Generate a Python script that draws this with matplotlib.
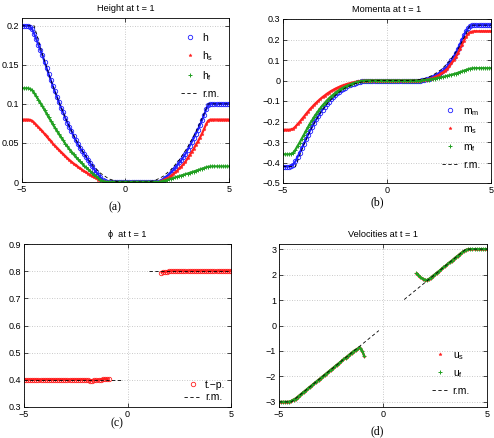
import numpy as np
import matplotlib
matplotlib.use("Agg")
import matplotlib.pyplot as plt
from matplotlib.ticker import FuncFormatter

plt.rcParams["font.family"] = ["Liberation Sans", "DejaVu Sans"]
plt.rcParams["mathtext.default"] = "regular"

# numerical grid, dx = 0.1 on [-5, 5]
x = np.round(np.arange(-5.0, 5.05, 0.1), 1)
x_left = x[:42]      # -5.0 .. -0.9 (wet, left)
x_right = x[66:]     # 1.6 .. 5.0 (wet, right)

dry = [0.0, 0.0, 0.0, 0.0, 0.0, 0.0, 0.0, 0.0, 0.0, 0.0, 0.0, 0.0,
       0.0, 0.0, 0.0, 0.0, 0.0, 0.0, 0.0, 0.0, 0.0, 0.0, 0.0, 0.0]

# ---- heights ----
h_left = [0.2, 0.2, 0.2, 0.2, 0.199, 0.196, 0.190, 0.183, 0.176, 0.169, 0.162, 0.154,
          0.146, 0.138, 0.131, 0.123, 0.116, 0.109, 0.102, 0.095, 0.089, 0.082, 0.076,
          0.070, 0.065, 0.059, 0.054, 0.049, 0.044, 0.040, 0.036, 0.032, 0.028, 0.024,
          0.020, 0.016, 0.0125, 0.009, 0.006, 0.003, 0.0008, 0.0]
h_right = [0.0, 0.001, 0.003, 0.005, 0.007, 0.009, 0.012, 0.015, 0.018, 0.021, 0.025,
           0.028, 0.032, 0.036, 0.041, 0.046, 0.051, 0.056, 0.062, 0.067, 0.073, 0.079,
           0.086, 0.093, 0.098, 0.1, 0.1, 0.1, 0.1, 0.1, 0.1, 0.1, 0.1, 0.1, 0.1]
hs_left = [0.08, 0.08, 0.08, 0.08, 0.0796, 0.0784, 0.076, 0.0732, 0.0704, 0.0676, 0.0648,
           0.0616, 0.0584, 0.0552, 0.0524, 0.0492, 0.0464, 0.0436, 0.0408, 0.038, 0.0356,
           0.0328, 0.0304, 0.028, 0.026, 0.0236, 0.0216, 0.0196, 0.0176, 0.016, 0.014,
           0.0124, 0.0108, 0.0092, 0.0076, 0.006, 0.0048, 0.0032, 0.002, 0.0008, 0.0002, 0.0]
hs_right = [0.0, 0.0006, 0.002, 0.0033, 0.0045, 0.0057, 0.0079, 0.01, 0.0122, 0.0143,
            0.0175, 0.0197, 0.0229, 0.026, 0.0302, 0.0343, 0.0385, 0.0426, 0.0477, 0.0518,
            0.0569, 0.062, 0.0681, 0.0742, 0.0785, 0.08, 0.08, 0.08, 0.08, 0.08, 0.08,
            0.08, 0.08, 0.08, 0.08]
hf_left = [0.12, 0.12, 0.12, 0.12, 0.1194, 0.1176, 0.114, 0.1098, 0.1056, 0.1014, 0.0972,
           0.0924, 0.0876, 0.0828, 0.0786, 0.0738, 0.0696, 0.0654, 0.0612, 0.057, 0.0534,
           0.0492, 0.0456, 0.042, 0.039, 0.0354, 0.0324, 0.0294, 0.0264, 0.024, 0.021,
           0.0186, 0.0162, 0.0138, 0.0114, 0.009, 0.0072, 0.0048, 0.003, 0.0012, 0.0003, 0.0]
hf_right = [0.0, 0.0003, 0.001, 0.0017, 0.0025, 0.0033, 0.0041, 0.005, 0.0058, 0.0067,
            0.0075, 0.0083, 0.0091, 0.01, 0.0108, 0.0117, 0.0125, 0.0134, 0.0143, 0.0152,
            0.0161, 0.017, 0.0179, 0.0188, 0.0195, 0.0199, 0.02, 0.02, 0.02, 0.02, 0.02,
            0.02, 0.02, 0.02, 0.02]

# ---- momenta ----
mm_left = [-0.42, -0.42, -0.42, -0.42, -0.4179, -0.4102, -0.3937, -0.3728, -0.3532, -0.3312,
           -0.3099, -0.2875, -0.2657, -0.2447, -0.2262, -0.2066, -0.1894, -0.173, -0.1571,
           -0.1418, -0.1288, -0.1148, -0.1028, -0.0915, -0.0819, -0.0715, -0.063, -0.0549,
           -0.0473, -0.0411, -0.0343, -0.0289, -0.0239, -0.0193, -0.0151, -0.0112, -0.0084,
           -0.0053, -0.0032, -0.0012, -0.0004, 0.0]
mm_right = [0.0, 0.0007, 0.0029, 0.0058, 0.0086, 0.0131, 0.0164, 0.0216, 0.0275, 0.0335,
            0.0421, 0.0489, 0.0585, 0.0684, 0.085, 0.099, 0.115, 0.133, 0.153, 0.175, 0.198,
            0.22, 0.24, 0.256, 0.265, 0.269, 0.27, 0.27, 0.27, 0.27, 0.27, 0.27, 0.27, 0.27, 0.27]
ms_left = [-0.24, -0.24, -0.24, -0.24, -0.2388, -0.2344, -0.225, -0.213, -0.2018, -0.1893,
           -0.1771, -0.1643, -0.1518, -0.1398, -0.1293, -0.1181, -0.1082, -0.0988, -0.0898,
           -0.081, -0.0736, -0.0656, -0.0588, -0.0523, -0.0468, -0.0409, -0.036, -0.0314,
           -0.027, -0.0235, -0.0196, -0.0165, -0.0137, -0.011, -0.0086, -0.0064, -0.0048,
           -0.003, -0.0018, -0.0007, -0.0002, 0.0]
ms_right = [0.0, 0.0004, 0.0019, 0.0042, 0.0063, 0.0095, 0.0126, 0.0169, 0.0218, 0.0267,
            0.0343, 0.04, 0.0484, 0.057, 0.071, 0.084, 0.098, 0.114, 0.132, 0.153, 0.174,
            0.195, 0.213, 0.227, 0.235, 0.239, 0.24, 0.24, 0.24, 0.24, 0.24, 0.24, 0.24,
            0.24, 0.24]
mf_left = [-0.36, -0.36, -0.36, -0.36, -0.3582, -0.3516, -0.3374, -0.3195, -0.3028, -0.2839,
           -0.2656, -0.2464, -0.2278, -0.2098, -0.1939, -0.1771, -0.1624, -0.1483, -0.1346,
           -0.1216, -0.1104, -0.0984, -0.0881, -0.0784, -0.0702, -0.0613, -0.054, -0.047,
           -0.0405, -0.0352, -0.0294, -0.0248, -0.0205, -0.0166, -0.0129, -0.0096, -0.0072,
           -0.0046, -0.0027, -0.001, -0.0003, 0.0]
mf_right = [0.0, 0.0006, 0.0019, 0.0031, 0.0045, 0.0059, 0.0075, 0.0094, 0.0113, 0.0135,
            0.0156, 0.0178, 0.0201, 0.0228, 0.0253, 0.0282, 0.031, 0.034, 0.0373, 0.0407,
            0.0441, 0.0478, 0.0514, 0.0551, 0.0579, 0.0595, 0.06, 0.06, 0.06, 0.06, 0.06,
            0.06, 0.06, 0.06, 0.06]

# ---- volume fraction (wet cells only) ----
phi_left = [0.4, 0.4, 0.4, 0.4, 0.4, 0.4, 0.4, 0.4, 0.4, 0.4, 0.4, 0.4, 0.4, 0.4, 0.4,
            0.4, 0.4, 0.4, 0.4, 0.4, 0.4, 0.4, 0.4, 0.4, 0.4, 0.4, 0.4, 0.4, 0.4, 0.4,
            0.399, 0.398, 0.397, 0.397, 0.398, 0.399, 0.4, 0.401, 0.402, 0.403, 0.403, 0.402]
phi_right = [0.795, 0.796, 0.797, 0.798, 0.799, 0.8, 0.8, 0.8, 0.8, 0.8, 0.8, 0.8, 0.8,
             0.8, 0.8, 0.8, 0.8, 0.8, 0.8, 0.8, 0.8, 0.8, 0.8, 0.8, 0.8, 0.8, 0.8, 0.8,
             0.8, 0.8, 0.8, 0.8, 0.8, 0.8, 0.8]

# ---- velocities (both phases coincide) ----
u_left = [-3.0, -3.0, -3.0, -3.0, -3.0, -2.99, -2.96, -2.91, -2.867, -2.8, -2.733, -2.667,
          -2.6, -2.533, -2.467, -2.4, -2.333, -2.267, -2.2, -2.133, -2.067, -2.0, -1.933,
          -1.867, -1.8, -1.733, -1.667, -1.6, -1.533, -1.467, -1.4, -1.333, -1.267, -1.2,
          -1.133, -1.067, -1.0, -0.95, -0.9, -0.87, -1.0, -1.2]
u_right = [2.07, 1.98, 1.9, 1.84, 1.8, 1.78, 1.82, 1.88, 1.95, 2.01, 2.08, 2.14, 2.21, 2.28,
           2.34, 2.41, 2.48, 2.54, 2.61, 2.68, 2.74, 2.81, 2.87, 2.93, 2.97, 2.99, 3.0, 3.0,
           3.0, 3.0, 3.0, 3.0, 3.0, 3.0, 3.0]

# ---- reference (r.m.) solution ----
x_rm = [-5.0, -4.4, -4.0, -3.6, -3.2, -2.8, -2.4, -2.0, -1.6, -1.2, -0.8, -0.4, -0.2,
        1.02, 1.4, 1.8, 2.2, 2.6, 3.0, 3.4, 3.8, 3.99, 5.0]
h_rm = [0.2, 0.2, 0.1637, 0.1311, 0.102, 0.0766, 0.0549, 0.0367, 0.0222, 0.0113, 0.0041,
        0.0005, 0.0, 0.0, 0.0016, 0.0069, 0.0158, 0.0283, 0.0444, 0.0642, 0.0876, 0.1, 0.1]
mm_rm = [-0.42, -0.42, -0.3132, -0.2264, -0.1571, -0.1037, -0.0641, -0.036, -0.0176,
         -0.0069, -0.0017, -0.0001, 0.0, 0.0, 0.0018, 0.0096, 0.0257, 0.0528, 0.0935,
         0.1506, 0.2265, 0.27, 0.27]
x_phi_rm = [-5.0, -0.2, np.nan, 1.02, 5.0]
phi_rm = [0.4, 0.4, np.nan, 0.8, 0.8]
x_u_rm = [-5.0, -4.4, -0.2, np.nan, 1.02, 3.99, 5.0]
u_rm = [-3.0, -3.0, -0.2, np.nan, 1.02, 3.0, 3.0]

h = np.concatenate([h_left, dry, h_right])
hs = np.concatenate([hs_left, dry, hs_right])
hf = np.concatenate([hf_left, dry, hf_right])
mm = np.concatenate([mm_left, dry, mm_right])
ms = np.concatenate([ms_left, dry, ms_right])
mf = np.concatenate([mf_left, dry, mf_right])

BLUE = "#2020ff"
RED = "#ff2020"
GREEN = "#22a022"

W, H = 494, 438
fig = plt.figure(figsize=(W / 100, H / 100), dpi=100)


def add_axes(l, t, r, b):
    return fig.add_axes([l / W, 1 - b / H, (r - l) / W, (b - t) / H])


def fmt(v, pos):
    v = round(v, 6)
    if v == 0:
        return "0"
    return ("%g" % v).replace("-", "\u2212")


def style(ax, yticks, ylim, title):
    ax.set_xlim(-5, 5)
    ax.set_xticks([-5, 0, 5])
    ax.set_yticks(yticks)
    ax.set_ylim(ylim)
    ax.xaxis.set_major_formatter(FuncFormatter(fmt))
    ax.yaxis.set_major_formatter(FuncFormatter(fmt))
    ax.set_axisbelow(True)
    ax.grid(True, linestyle=(0, (1, 2)), color="#b8b8b8", lw=0.6)
    ax.tick_params(direction="in", length=3, width=0.5, top=True, right=True,
                   labelsize=6.5, pad=2)
    for s in ax.spines.values():
        s.set_linewidth(0.6)
    ax.set_title(title, fontsize=6.6, pad=5)


def series(ax, xx, yy, color, marker, label, lw=1.6):
    # dense numerical solution: thick band with small markers on it
    ax.plot(xx, yy, color=color, lw=lw, solid_capstyle="butt", label="_nolegend_")
    if marker == "o":
        ax.plot(xx, yy, ls="none", marker="o", mfc="none", mec=color, ms=3.2,
                mew=0.6, label=label)
    elif marker == "*":
        ax.plot(xx, yy, ls="none", marker="*", color=color, ms=2.4, mew=0.3,
                label=label)
    else:
        ax.plot(xx, yy, ls="none", marker="+", color=color, ms=2.8, mew=0.7,
                label=label)


def rm(ax, xx, yy):
    ax.plot(xx, yy, color="k", lw=0.6, dashes=(4, 3), zorder=4, label="r.m.")


leg = dict(frameon=False, fontsize=7.5, numpoints=1, handlelength=1.6,
           handletextpad=0.4, labelspacing=0.6, borderpad=0, borderaxespad=0,
           markerscale=1.0)

# (a) heights
axa = add_axes(21.7, 18, 229, 182)
series(axa, x, h, BLUE, "o", "h", lw=1.5)
series(axa, x, hs, RED, "*", "h$_s$")
series(axa, x, hf, GREEN, "+", "h$_f$")
rm(axa, x_rm, h_rm)
style(axa, [0, 0.05, 0.1, 0.15, 0.2], (0, 0.21), "Height at t = 1")
axa.legend(loc="upper left", bbox_to_anchor=(0.77, 0.91), **leg)

# (b) momenta
axb = add_axes(283, 19, 491, 183)
series(axb, x, mm, BLUE, "o", "m$_m$", lw=1.5)
series(axb, x, ms, RED, "*", "m$_s$")
series(axb, x, mf, GREEN, "+", "m$_f$")
rm(axb, x_rm, mm_rm)
style(axb, np.round(np.arange(-0.5, 0.31, 0.1), 1), (-0.5, 0.3), "Momenta at t = 1")
axb.legend(loc="upper left", bbox_to_anchor=(0.765, 0.47), **leg)

# (c) volume fraction
axc = add_axes(24, 244, 231, 407)
series(axc, x_left, phi_left, RED, "o", "t.\u2212p.", lw=1.6)
series(axc, x_right, phi_right, RED, "o", "_nolegend_", lw=1.6)
rm(axc, x_phi_rm, phi_rm)
style(axc, np.round(np.arange(0.3, 0.91, 0.1), 1), (0.3, 0.9), "\u03d5  at t = 1")
axc.legend(loc="upper left", bbox_to_anchor=(0.775, 0.165),
           **dict(leg, labelspacing=0.2))

# (d) velocities
axd = add_axes(279, 244, 487, 407)
series(axd, x_left, u_left, RED, "*", "u$_s$")
series(axd, x_right, u_right, RED, "*", "_nolegend_")
series(axd, x_left, u_left, GREEN, "+", "u$_f$")
series(axd, x_right, u_right, GREEN, "+", "_nolegend_")
rm(axd, x_u_rm, u_rm)
style(axd, [-3, -2, -1, 0, 1, 2, 3], (-3.2, 3.2), "Velocities at t = 1")
axd.legend(loc="upper left", bbox_to_anchor=(0.735, 0.35), **leg)

for cx, cy, lab in [(115, 207, "(a)"), (377, 202, "(b)"), (117, 423, "(c)"), (377, 431, "(d)")]:
    fig.text(cx / W, 1 - cy / H, lab, ha="center", va="center",
             family="Liberation Serif", fontsize=8.5)

fig.savefig("out.png", dpi=100)
